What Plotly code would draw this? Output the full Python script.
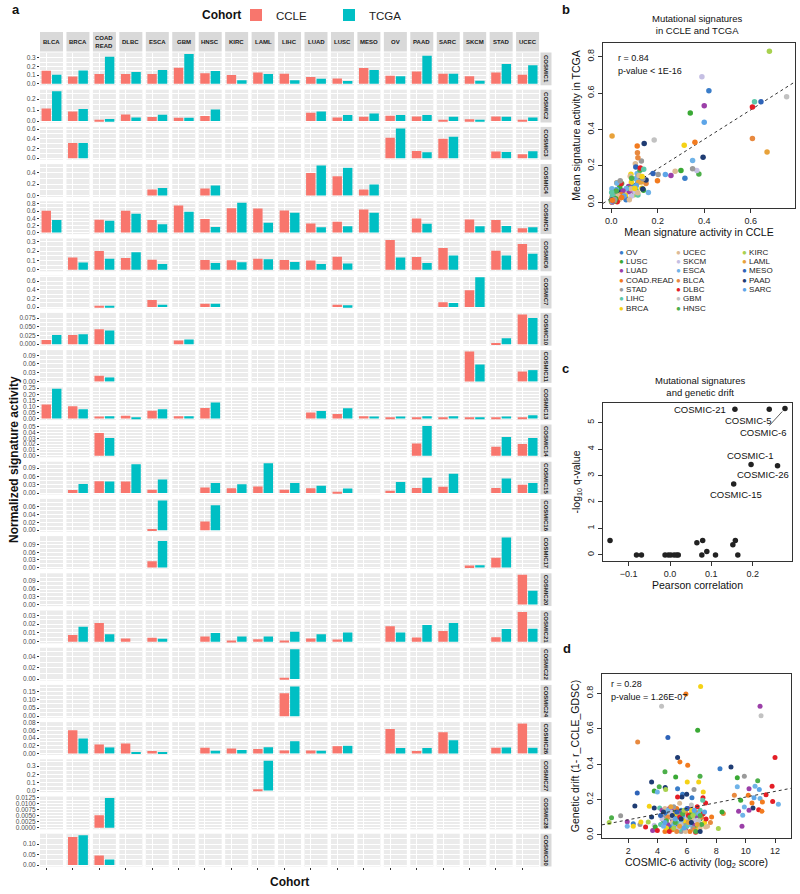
import numpy as np
import plotly.graph_objects as go

W, H = 800, 894
FONT = "Liberation Sans, Arial, sans-serif"

cohorts = ["BLCA", "BRCA", "COAD.READ", "DLBC", "ESCA", "GBM", "HNSC", "KIRC", "LAML", "LIHC",
           "LUAD", "LUSC", "MESO", "OV", "PAAD", "SARC", "SKCM", "STAD", "UCEC"]
strip_labels = [c.replace(".", "<br>") for c in cohorts]
signatures = ["COSMIC1", "COSMIC2", "COSMIC3", "COSMIC4", "COSMIC5", "COSMIC6", "COSMIC7",
              "COSMIC10", "COSMIC11", "COSMIC13", "COSMIC14", "COSMIC15", "COSMIC16", "COSMIC17",
              "COSMIC20", "COSMIC21", "COSMIC22", "COSMIC24", "COSMIC26", "COSMIC27", "COSMIC28",
              "COSMIC30"]

# normalized signature activity, one row per signature, cohorts in order above
ccle_vals = [
    [0.150, 0.085, 0.112, 0.112, 0.112, 0.185, 0.120, 0.100, 0.130, 0.115, 0.077, 0.062, 0.180, 0.092, 0.142, 0.115, 0.088, 0.130, 0.104],
    [0.113, 0.087, 0.012, 0.060, 0.036, 0.030, 0.045, 0, 0, 0, 0.075, 0.033, 0.039, 0.048, 0.042, 0.012, 0.015, 0.042, 0.012],
    [0, 0.314, 0, 0, 0, 0, 0, 0, 0, 0, 0, 0, 0, 0.420, 0.150, 0.400, 0, 0.136, 0.082],
    [0, 0, 0, 0, 0.106, 0, 0.124, 0, 0, 0, 0.400, 0.340, 0.106, 0, 0, 0, 0, 0, 0],
    [0.607, 0, 0.360, 0.607, 0.350, 0.754, 0.377, 0.680, 0.670, 0.616, 0.257, 0.300, 0.644, 0, 0.395, 0, 0.368, 0.350, 0.120],
    [0, 0.132, 0.199, 0.125, 0.108, 0, 0.105, 0.101, 0.118, 0.105, 0.098, 0.139, 0, 0.317, 0.136, 0.233, 0, 0.202, 0.275],
    [0, 0, 0.023, 0, 0.160, 0, 0.077, 0, 0, 0, 0, 0.054, 0, 0, 0, 0.108, 0.390, 0, 0],
    [0.0124, 0.0266, 0.0428, 0, 0, 0.0105, 0, 0, 0, 0, 0, 0, 0, 0, 0, 0, 0, 0.003, 0.0855],
    [0, 0, 0.0194, 0, 0, 0, 0, 0, 0, 0, 0, 0, 0, 0, 0, 0, 0.1027, 0, 0.034],
    [0.115, 0.102, 0.017, 0.023, 0.065, 0.020, 0.088, 0, 0, 0, 0.051, 0.037, 0.020, 0.006, 0.011, 0.006, 0.011, 0.011, 0.003],
    [0, 0, 0.0389, 0, 0, 0, 0, 0, 0, 0, 0, 0, 0, 0, 0.0211, 0, 0, 0.0154, 0.020],
    [0, 0.0108, 0.043, 0.042, 0.012, 0, 0.020, 0.017, 0.024, 0.012, 0.017, 0.005, 0, 0.008, 0.018, 0.023, 0, 0.018, 0.030],
    [0, 0, 0, 0, 0.0033, 0, 0.0217, 0, 0, 0, 0, 0, 0, 0, 0, 0, 0, 0, 0],
    [0, 0, 0, 0, 0.0248, 0, 0, 0, 0, 0, 0, 0, 0, 0, 0, 0, 0.0078, 0.039, 0],
    [0, 0, 0, 0, 0, 0, 0, 0, 0, 0, 0, 0, 0, 0, 0, 0, 0, 0, 0.1146],
    [0, 0.0076, 0.0213, 0.0038, 0.0046, 0, 0.0061, 0.0011, 0.003, 0.0015, 0.0038, 0.0027, 0, 0.0175, 0.0049, 0.0122, 0, 0.0053, 0.0338],
    [0, 0, 0, 0, 0, 0, 0, 0, 0, 0.0024, 0, 0, 0, 0, 0, 0, 0, 0, 0],
    [0, 0, 0, 0, 0, 0, 0, 0, 0, 0.140, 0, 0, 0, 0, 0, 0, 0, 0, 0],
    [0, 0.0609, 0.0235, 0.026, 0.006, 0, 0.0148, 0.013, 0.0113, 0.0078, 0.0078, 0.019, 0, 0.0643, 0.006, 0.0557, 0, 0.0148, 0.0783],
    [0, 0, 0, 0, 0, 0, 0, 0, 0.004, 0, 0, 0, 0, 0, 0, 0, 0, 0, 0],
    [0, 0, 0.0051, 0, 0, 0, 0, 0, 0, 0, 0, 0, 0, 0, 0, 0, 0, 0, 0],
    [0, 0.133, 0.0453, 0, 0, 0, 0, 0, 0, 0, 0, 0, 0, 0, 0, 0, 0, 0, 0],
]
tcga_vals = [
    [0.104, 0.154, 0.310, 0.135, 0.158, 0.342, 0.146, 0.042, 0.112, 0.040, 0.058, 0.031, 0.158, 0.088, 0.323, 0.115, 0.035, 0.227, 0.212],
    [0.272, 0.110, 0.018, 0.033, 0.057, 0.030, 0.104, 0, 0, 0, 0.087, 0.054, 0.069, 0.054, 0.054, 0.039, 0.012, 0.039, 0.033],
    [0, 0.314, 0, 0, 0, 0, 0, 0, 0, 0, 0, 0, 0, 0.613, 0.123, 0.440, 0, 0.130, 0.143],
    [0, 0, 0, 0, 0.130, 0, 0.176, 0, 0, 0, 0.530, 0.490, 0.194, 0, 0, 0, 0, 0, 0],
    [0.350, 0, 0.330, 0.524, 0.230, 0.580, 0.156, 0.830, 0.276, 0.552, 0.147, 0.175, 0.552, 0, 0.248, 0, 0.175, 0.184, 0.147],
    [0, 0.077, 0.118, 0.188, 0.063, 0, 0.073, 0.080, 0.111, 0.084, 0.063, 0.066, 0, 0.132, 0.073, 0.153, 0, 0.153, 0.171],
    [0, 0, 0.008, 0, 0.054, 0, 0.077, 0, 0, 0, 0, 0.038, 0, 0, 0, 0.092, 0.690, 0, 0],
    [0.0266, 0.0285, 0.039, 0, 0, 0.0133, 0, 0, 0, 0, 0, 0, 0, 0, 0, 0, 0, 0.017, 0.075],
    [0, 0, 0.0137, 0, 0, 0, 0, 0, 0, 0, 0, 0, 0, 0, 0, 0, 0.058, 0, 0.0388],
    [0.245, 0.076, 0.020, 0.011, 0.076, 0.020, 0.133, 0, 0, 0, 0.062, 0.085, 0.017, 0.017, 0.020, 0.020, 0.008, 0.017, 0.028],
    [0, 0, 0.0303, 0, 0, 0, 0, 0, 0, 0, 0, 0, 0, 0, 0.0509, 0, 0, 0.032, 0.0303],
    [0, 0.0324, 0.042, 0.104, 0.049, 0, 0.036, 0.032, 0.108, 0.036, 0.026, 0.016, 0, 0.040, 0.055, 0.070, 0, 0.053, 0.036],
    [0, 0, 0, 0, 0.075, 0, 0.063, 0, 0, 0, 0, 0, 0, 0, 0, 0, 0, 0, 0],
    [0, 0, 0, 0, 0.1057, 0, 0, 0, 0, 0, 0, 0, 0, 0, 0, 0, 0.009, 0.119, 0],
    [0, 0, 0, 0, 0, 0, 0, 0, 0, 0, 0, 0, 0, 0, 0, 0, 0, 0, 0.0528],
    [0, 0.0171, 0.0087, 0, 0.0034, 0, 0.0099, 0.0061, 0.0061, 0.0114, 0.0087, 0.0106, 0, 0.0106, 0.019, 0.0213, 0, 0.0144, 0.0148],
    [0, 0, 0, 0, 0, 0, 0, 0, 0, 0.0537, 0, 0, 0, 0, 0, 0, 0, 0, 0],
    [0, 0, 0, 0, 0, 0, 0, 0, 0, 0.182, 0, 0, 0, 0, 0, 0, 0, 0, 0],
    [0, 0.0391, 0.0157, 0.0035, 0.0035, 0, 0.007, 0.0087, 0.0165, 0.032, 0.007, 0.020, 0, 0.0139, 0.0139, 0.0348, 0, 0.0157, 0.0148],
    [0, 0, 0, 0, 0, 0, 0, 0, 0.364, 0, 0, 0, 0, 0, 0, 0, 0, 0, 0],
    [0, 0, 0.0122, 0, 0, 0, 0, 0, 0, 0, 0, 0, 0, 0, 0, 0, 0, 0, 0],
    [0, 0.142, 0.0266, 0, 0, 0, 0, 0, 0, 0, 0, 0, 0, 0, 0, 0, 0, 0, 0],
]
row_ticks = [
    ["0.0", "0.1", "0.2", "0.3"],
    ["0.0", "0.1", "0.2"],
    ["0.0", "0.2", "0.4", "0.6"],
    ["0.0", "0.2", "0.4"],
    ["0.0", "0.2", "0.4", "0.6", "0.8"],
    ["0.0", "0.1", "0.2", "0.3"],
    ["0.0", "0.2", "0.4", "0.6"],
    ["0.000", "0.025", "0.050", "0.075"],
    ["0.00", "0.03", "0.06", "0.09"],
    ["0.00", "0.05", "0.10", "0.15", "0.20", "0.25"],
    ["0.00", "0.01", "0.02", "0.03", "0.04", "0.05"],
    ["0.00", "0.03", "0.06", "0.09"],
    ["0.00", "0.02", "0.04", "0.06"],
    ["0.00", "0.03", "0.06", "0.09"],
    ["0.00", "0.03", "0.06", "0.09"],
    ["0.00", "0.01", "0.02", "0.03"],
    ["0.00", "0.02", "0.04"],
    ["0.00", "0.05", "0.10", "0.15"],
    ["0.00", "0.02", "0.04", "0.06", "0.08"],
    ["0.0", "0.1", "0.2", "0.3"],
    ["0.0000", "0.0025", "0.0050", "0.0075", "0.0100", "0.0125"],
    ["0.00", "0.05", "0.10"],
]

palette = {
    "OV": "#3A7DC9", "LUSC": "#3AA935", "LUAD": "#9B3FA8", "COAD.READ": "#F27B1F",
    "STAD": "#9A9A9A", "LIHC": "#5CC8A8", "BRCA": "#F5D216", "UCEC": "#DDBB94",
    "SKCM": "#C5BFE3", "ESCA": "#6FB3E8", "BLCA": "#E8893F", "DLBC": "#E41E26",
    "GBM": "#C2C2C2", "HNSC": "#4DAF4A", "KIRC": "#A8D14F", "LAML": "#E8A23A",
    "MESO": "#2E63B8", "PAAD": "#1F3C73", "SARC": "#5DA5E8",
}
legend_cols = [
    ["OV", "LUSC", "LUAD", "COAD.READ", "STAD", "LIHC", "BRCA"],
    ["UCEC", "SKCM", "ESCA", "BLCA", "DLBC", "GBM", "HNSC"],
    ["KIRC", "LAML", "MESO", "PAAD", "SARC"],
]

# panel c: correlation with genetic drift
c_corr = [-0.145, -0.081, -0.069, -0.012, -0.004, 0.002, 0.010, 0.016, 0.020, 0.065, 0.079, 0.089,
          0.077, 0.110, 0.152, 0.158, 0.164, 0.157, 0.240, 0.278, 0.196, 0.260, 0.154]
c_q = [0.54, 0, 0, 0, 0, 0, 0, 0, 0, 0.46, 0.54, 0.125,
       0, 0, 0.38, 0.54, 0, 5.50, 5.50, 5.53, 3.42, 3.37, 2.68]

# panel d: COSMIC-6 activity vs genetic drift per cell line
d_points = [
    (4.27, 0.728, "GBM"), (10.98, 0.728, "LUAD"), (11.05, 0.674, "GBM"), (6.73, 0.592, "LUSC"),
    (2.64, 0.526, "BLCA"), (4.70, 0.551, "MESO"), (5.93, 0.797, "COAD.READ"), (6.93, 0.839, "BRCA"),
    (5.36, 0.438, "PAAD"), (5.52, 0.413, "COAD.READ"), (6.05, 0.394, "COAD.READ"), (12.0, 0.438, "DLBC"),
    (8.25, 0.375, "OV"), (9.0, 0.385, "PAAD"), (4.5, 0.357, "HNSC"), (3.59, 0.30, "PAAD"),
    (2.61, 0.238, "MESO"), (5.23, 0.328, "LUSC"), (6.89, 0.332, "HNSC"), (6.02, 0.30, "BRCA"),
    (6.8, 0.30, "BRCA"), (4.52, 0.268, "PAAD"), (4.11, 0.272, "HNSC"), (3.77, 0.249, "LUSC"),
    (3.98, 0.243, "ESCA"), (4.55, 0.257, "KIRC"), (5.36, 0.262, "OV"), (5.70, 0.230, "OV"),
    (5.98, 0.23, "PAAD"), (6.48, 0.257, "STAD"), (7.11, 0.243, "BRCA"), (7.09, 0.211, "DLBC"),
    (6.34, 0.211, "OV"), (5.66, 0.215, "PAAD"), (5.36, 0.215, "DLBC"), (2.45, 0.164, "PAAD"),
    (3.43, 0.162, "BRCA"), (3.77, 0.153, "PAAD"), (4.14, 0.153, "LIHC"), (7.27, 0.181, "DLBC"),
    (7.07, 0.196, "LIHC"), (7.68, 0.102, "COAD.READ"), (8.14, 0.036, "KIRC"), (6.59, 0.015, "DLBC"),
    (7.27, 0.045, "UCEC"), (9.43, 0.323, "LUSC"), (9.43, 0.272, "ESCA"), (9.91, 0.332, "STAD"),
    (10.23, 0.262, "LUAD"), (10.64, 0.275, "ESCA"), (10.82, 0.306, "HNSC"), (10.93, 0.257, "SARC"),
    (10.18, 0.225, "COAD.READ"), (9.23, 0.225, "BLCA"), (9.66, 0.196, "LUSC"), (10.57, 0.211, "SARC"),
    (10.98, 0.206, "ESCA"), (11.39, 0.228, "DLBC"), (11.80, 0.275, "DLBC"), (11.84, 0.19, "DLBC"),
    (12.23, 0.174, "ESCA"), (10.43, 0.181, "COAD.READ"), (11.14, 0.187, "COAD.READ"), (9.91, 0.158, "ESCA"),
    (10.5, 0.153, "PAAD"), (10.89, 0.143, "DLBC"), (11.11, 0.134, "COAD.READ"), (10.23, 0.140, "LUAD"),
    (9.52, 0.134, "LUAD"), (9.80, 0.111, "ESCA"), (9.75, 0.049, "LUAD"), (8.48, 0.121, "BLCA"),
    (8.39, 0.13, "LUSC"), (0.70, 0.070, "KIRC"), (0.86, 0.098, "HNSC"), (1.48, 0.109, "STAD"),
    (1.93, 0.075, "LUAD"), (2.34, 0.064, "OV"), (1.93, 0.049, "ESCA"), (2.34, 0.049, "BRCA"),
    (2.80, 0.060, "STAD"), (2.86, 0.074, "BRCA"), (3.18, 0.045, "DLBC"), (3.36, 0.074, "KIRC"),
    (3.59, 0.102, "PAAD"), (3.66, 0.026, "LUAD"), (3.77, 0.055, "SKCM"), (3.84, 0.045, "LUSC"),
    (3.98, 0.026, "DLBC"),
    (4.6, 0.12, "OV"), (5.1, 0.09, "OV"), (5.4, 0.06, "OV"), (5.8, 0.11, "OV"), (6.2, 0.08, "OV"),
    (4.9, 0.05, "OV"), (5.6, 0.14, "OV"), (6.5, 0.10, "OV"),
    (4.4, 0.08, "LUSC"), (5.0, 0.13, "LUSC"), (5.3, 0.10, "LUSC"), (5.9, 0.07, "LUSC"), (6.3, 0.12, "LUSC"),
    (6.6, 0.05, "LUSC"), (4.8, 0.03, "LUSC"), (6.9, 0.09, "LUSC"),
    (4.3, 0.14, "LUAD"), (4.7, 0.06, "LUAD"), (5.2, 0.04, "LUAD"), (5.5, 0.12, "LUAD"), (5.9, 0.03, "LUAD"),
    (6.1, 0.15, "LUAD"), (6.4, 0.06, "LUAD"), (6.7, 0.11, "LUAD"), (5.0, 0.08, "LUAD"), (4.8, 0.15, "LUAD"),
    (5.05, 0.155, "LUAD"),
    (4.5, 0.02, "COAD.READ"), (5.0, 0.03, "COAD.READ"), (5.7, 0.05, "COAD.READ"), (6.2, 0.02, "COAD.READ"),
    (6.6, 0.13, "COAD.READ"), (5.3, 0.15, "COAD.READ"),
    (4.4, 0.10, "STAD"), (5.1, 0.16, "STAD"), (5.4, 0.11, "STAD"), (5.8, 0.06, "STAD"), (6.1, 0.09, "STAD"),
    (6.4, 0.04, "STAD"), (6.8, 0.07, "STAD"), (5.6, 0.02, "STAD"),
    (4.2, 0.06, "LIHC"), (4.9, 0.10, "LIHC"), (5.3, 0.07, "LIHC"), (5.7, 0.09, "LIHC"), (6.0, 0.05, "LIHC"),
    (6.5, 0.12, "LIHC"), (6.9, 0.14, "LIHC"), (5.5, 0.03, "LIHC"),
    (4.6, 0.04, "BRCA"), (5.2, 0.12, "BRCA"), (5.8, 0.08, "BRCA"), (6.3, 0.14, "BRCA"), (6.7, 0.03, "BRCA"),
    (7.2, 0.07, "BRCA"),
    (4.5, 0.15, "UCEC"), (5.0, 0.07, "UCEC"), (5.5, 0.18, "UCEC"), (6.0, 0.12, "UCEC"), (6.4, 0.09, "UCEC"),
    (6.9, 0.04, "UCEC"), (4.8, 0.11, "UCEC"), (5.9, 0.02, "UCEC"), (7.4, 0.05, "UCEC"),
    (4.3, 0.09, "SKCM"), (4.9, 0.13, "SKCM"), (5.4, 0.04, "SKCM"), (6.0, 0.10, "SKCM"), (6.6, 0.08, "SKCM"),
    (4.4, 0.05, "ESCA"), (5.1, 0.06, "ESCA"), (5.6, 0.08, "ESCA"), (6.2, 0.06, "ESCA"), (6.8, 0.12, "ESCA"),
    (4.7, 0.14, "ESCA"),
    (4.7, 0.10, "BLCA"), (5.3, 0.02, "BLCA"), (5.9, 0.13, "BLCA"), (6.5, 0.03, "BLCA"), (7.0, 0.10, "BLCA"),
    (7.6, 0.07, "BLCA"),
    (4.8, 0.02, "DLBC"), (5.5, 0.10, "DLBC"), (6.1, 0.11, "DLBC"), (6.7, 0.16, "DLBC"), (7.1, 0.12, "DLBC"),
    (7.3, 0.09, "DLBC"),
    (5.0, 0.10, "GBM"), (5.6, 0.06, "GBM"), (6.3, 0.17, "GBM"), (6.8, 0.08, "GBM"),
    (4.6, 0.08, "HNSC"), (5.2, 0.07, "HNSC"), (5.7, 0.12, "HNSC"), (6.2, 0.10, "HNSC"), (6.6, 0.02, "HNSC"),
    (7.0, 0.06, "HNSC"), (6.9, 0.11, "HNSC"),
    (5.1, 0.04, "KIRC"), (5.8, 0.14, "KIRC"), (6.4, 0.11, "KIRC"),
    (4.9, 0.16, "LAML"), (5.5, 0.05, "LAML"), (6.1, 0.07, "LAML"), (6.7, 0.06, "LAML"),
    (4.2, 0.11, "MESO"), (5.3, 0.13, "MESO"), (6.0, 0.15, "MESO"),
    (4.4, 0.13, "PAAD"), (5.0, 0.11, "PAAD"), (5.6, 0.09, "PAAD"), (6.3, 0.07, "PAAD"), (6.9, 0.02, "PAAD"),
    (4.5, 0.07, "SARC"), (5.2, 0.09, "SARC"), (5.8, 0.04, "SARC"), (6.5, 0.14, "SARC"), (7.2, 0.13, "SARC"),
]


def px(x):
    return x / W


def py(y):
    return 1 - y / H


def note(text, x, y, size, xanchor="center", yanchor="middle", color="#111", angle=0):
    # text placed in figure pixels (top-left origin)
    return dict(x=px(x), y=py(y), xref="paper", yref="paper", text=text, showarrow=False,
                xanchor=xanchor, yanchor=yanchor, textangle=angle,
                font=dict(size=size, color=color))


fig = go.Figure()
layout = {}
shapes = []
annotations = []

n_rows, n_cols = len(signatures), len(cohorts)
col_left0, col_pitch, col_w = 40, 26.45, 23
row_top0, row_pitch, row_h = 52.5, 37.2, 32.8
CCLE_COL, TCGA_COL = "#F8766D", "#00BFC4"

for j in range(n_cols):
    left = col_left0 + j * col_pitch
    layout["xaxis" if j == 0 else f"xaxis{j + 1}"] = dict(
        domain=[px(left), px(left + col_w)], anchor=f"y{n_rows}", type="category",
        categoryorder="array", categoryarray=["CCLE", "TCGA"], range=[-0.6, 1.6],
        showgrid=True, gridcolor="white", gridwidth=0.8, showticklabels=False,
        ticks="outside", ticklen=2, tickwidth=0.6, tickcolor="#333", zeroline=False,
        showline=False, fixedrange=True, automargin=False)
    shapes.append(dict(type="rect", xref="paper", yref="paper", x0=px(left), x1=px(left + col_w),
                       y0=py(51.5), y1=py(32), fillcolor="#D9D9D9", line_width=0, layer="below"))
    annotations.append(note(f"<b>{strip_labels[j]}</b>", left + col_w / 2, 41.8, 6,
                            color="#1A1A1A"))

for i in range(n_rows):
    top = row_top0 + i * row_pitch
    ymax = max(max(ccle_vals[i]), max(tcga_vals[i]))
    tv = [float(t) for t in row_ticks[i]]
    step = tv[1] - tv[0]
    minor = [v + step / 2 for v in tv if v + step / 2 < 1.05 * ymax]
    layout["yaxis" if i == 0 else f"yaxis{i + 1}"] = dict(
        domain=[py(top + row_h), py(top)], anchor="x", range=[-0.05 * ymax, 1.05 * ymax],
        tickmode="array", tickvals=tv, ticktext=row_ticks[i], showgrid=True, gridcolor="white",
        gridwidth=0.8, minor=dict(tickmode="array", tickvals=minor, showgrid=True,
                                  gridcolor="white", gridwidth=0.4, ticks=""),
        ticks="outside", ticklen=2, tickwidth=0.6, tickcolor="#333", zeroline=False,
        tickfont=dict(size=6.5, color="#4D4D4D"), showline=False, fixedrange=True,
        automargin=False)
    shapes.append(dict(type="rect", xref="paper", yref="paper", x0=px(540.5), x1=px(551.5),
                       y0=py(top + row_h), y1=py(top), fillcolor="#D9D9D9", line_width=0,
                       layer="below"))
    annotations.append(note(f"<b>{signatures[i]}</b>", 546, top + row_h / 2, 6,
                            color="#1A1A1A", angle=90))
    for j in range(n_cols):
        xa = "x" if j == 0 else f"x{j + 1}"
        ya = "y" if i == 0 else f"y{i + 1}"
        first = i == 0 and j == 0
        fig.add_trace(go.Bar(x=["CCLE"], y=[ccle_vals[i][j]], xaxis=xa, yaxis=ya,
                             marker=dict(color=CCLE_COL, line_width=0), name="CCLE",
                             legendgroup="CCLE", showlegend=first, hoverinfo="skip"))
        fig.add_trace(go.Bar(x=["TCGA"], y=[tcga_vals[i][j]], xaxis=xa, yaxis=ya,
                             marker=dict(color=TCGA_COL, line_width=0), name="TCGA",
                             legendgroup="TCGA", showlegend=first, hoverinfo="skip"))

# ---- panel b: mean activity CCLE vs TCGA (same data as the bars)
b_x, b_y, b_c = [], [], []
for i in range(n_rows):
    for j in range(n_cols):
        if ccle_vals[i][j] > 0 or tcga_vals[i][j] > 0:
            b_x.append(ccle_vals[i][j])
            b_y.append(tcga_vals[i][j])
            b_c.append(palette[cohorts[j]])
b_fit = np.polyfit(b_x, b_y, 1)
b_range = [-0.035, 0.79]

box_axis = dict(showline=True, mirror=True, linecolor="#333", linewidth=1, ticks="outside",
                ticklen=4, tickcolor="#333", showgrid=False, zeroline=False,
                tickfont=dict(size=9, color="#222"), title_font=dict(size=10.5, color="#111"),
                fixedrange=True, automargin=False)

layout["xaxis20"] = dict(box_axis, domain=[px(603), px(795)], anchor="y23", range=b_range,
                         tickvals=[0, 0.2, 0.4, 0.6], tickformat=".1f",
                         title=dict(text="Mean signature activity in CCLE", standoff=3))
layout["yaxis23"] = dict(box_axis, domain=[py(208), py(43)], anchor="x20", range=[-0.031, 0.875],
                         tickvals=[0, 0.2, 0.4, 0.6, 0.8], tickformat=".1f", tickangle=-90,
                         title=dict(text="Mean signature activity in TCGA", standoff=3))
fig.add_trace(go.Scatter(x=b_range, y=[b_fit[1] + b_fit[0] * v for v in b_range], mode="lines",
                         line=dict(color="#333", width=1, dash="dot"), xaxis="x20", yaxis="y23",
                         showlegend=False, hoverinfo="skip"))
fig.add_trace(go.Scatter(x=b_x, y=b_y, mode="markers", marker=dict(size=5.5, color=b_c),
                         xaxis="x20", yaxis="y23", showlegend=False))

# ---- panel c
layout["xaxis21"] = dict(box_axis, domain=[px(603), px(792)], anchor="y24", range=[-0.162, 0.295],
                         tickvals=[-0.1, 0, 0.1, 0.2], tickformat=".1f",
                         title=dict(text="Pearson correlation", standoff=3))
layout["yaxis24"] = dict(box_axis, domain=[py(561), py(403)], anchor="x21", range=[-0.23, 5.74],
                         tickvals=[0, 1, 2, 3, 4, 5], tickangle=-90,
                         title=dict(text="-log<sub>10</sub> q-value", standoff=3))
fig.add_trace(go.Scatter(x=c_corr, y=c_q, mode="markers", marker=dict(size=5.5, color="#222"),
                         xaxis="x21", yaxis="y24", showlegend=False))
c_label_font = dict(size=9.5, color="#111")
for txt, x, y, xanchor in [("COSMIC-21", 0.140, 5.50, "right"), ("COSMIC-5", 0.189, 5.07, "center"),
                           ("COSMIC-1", 0.194, 3.74, "center"), ("COSMIC-26", 0.225, 3.02, "center"),
                           ("COSMIC-15", 0.160, 2.30, "center")]:
    annotations.append(dict(x=x, y=y, xref="x21", yref="y24", text=txt, showarrow=False,
                            xanchor=xanchor, yanchor="middle", font=c_label_font))
annotations.append(dict(x=0.278, y=5.53, xref="x21", yref="y24", text="COSMIC-6", showarrow=True,
                        arrowhead=0, arrowwidth=0.8, arrowcolor="#333", ax=-22, ay=24,
                        standoff=4, font=c_label_font))

# ---- panel d
d_x = [p[0] for p in d_points]
d_y = [p[1] for p in d_points]
d_c = [palette[p[2]] for p in d_points]
d_fit = np.polyfit(d_x, d_y, 1)
d_range = [0.21, 13.09]
layout["xaxis22"] = dict(box_axis, domain=[px(602), px(791)], anchor="y25", range=d_range,
                         tickvals=[2, 4, 6, 8, 10, 12],
                         title=dict(text="COSMIC-6 activity (log<sub>2</sub> score)", standoff=3))
layout["yaxis25"] = dict(box_axis, domain=[py(838), py(674)], anchor="x22", range=[-0.017, 0.91],
                         tickvals=[0, 0.2, 0.4, 0.6, 0.8], tickformat=".1f", tickangle=-90,
                         title=dict(text="Genetic drift (1- r_CCLE_GDSC)", standoff=3))
fig.add_trace(go.Scatter(x=d_x, y=d_y, mode="markers", marker=dict(size=5, color=d_c),
                         xaxis="x22", yaxis="y25", showlegend=False))
fig.add_trace(go.Scatter(x=d_range, y=[d_fit[1] + d_fit[0] * v for v in d_range], mode="lines",
                         line=dict(color="#333", width=1, dash="dot"), xaxis="x22", yaxis="y25",
                         showlegend=False, hoverinfo="skip"))

# white backgrounds for the base-style panels
for xa, ya in [("x20", "y23"), ("x21", "y24"), ("x22", "y25")]:
    shapes.append(dict(type="rect", xref=f"{xa} domain", yref=f"{ya} domain", x0=0, x1=1, y0=0,
                       y1=1, fillcolor="white", line_width=0, layer="below"))

# panel b legend
for ci, names in enumerate(legend_cols):
    x0 = [617, 674, 740][ci]
    for ri, name in enumerate(names):
        annotations.append(note(f'<span style="color:{palette[name]}">●</span> {name}',
                                x0, 252 + ri * 9.4, 8, xanchor="left", color="#222"))

# titles, letters and free text
annotations += [
    note("<b>a</b>", 10, 10, 13, xanchor="left"),
    note("<b>b</b>", 560, 10, 13, xanchor="left"),
    note("<b>c</b>", 560, 368, 13, xanchor="left"),
    note("<b>d</b>", 561, 648, 13, xanchor="left"),
    note("Mutational signatures<br>in CCLE and TCGA", 697, 25, 9.5),
    note("Mutational signatures<br>and genetic drift", 700, 386, 9.5),
    note("r = 0.84", 616, 58, 9, xanchor="left"),
    note("p-value < 1E-16", 616, 71, 9, xanchor="left"),
    note("r = 0.28", 609, 684, 9, xanchor="left"),
    note("p-value = 1.26E-07", 609, 697, 9, xanchor="left"),
    note("<b>Cohort</b>", 289, 882, 12),
    note("<b>Normalized signature activity</b>", 14, 460, 12, angle=-90),
    note("<b>Cohort</b>", 221, 15, 12),
]

fig.update_layout(
    width=W, height=H, margin=dict(l=0, r=0, t=0, b=0, autoexpand=False),
    paper_bgcolor="white", plot_bgcolor="#EBEBEB",
    barmode="overlay", bargap=0.1,
    font=dict(family=FONT, color="#222"),
    shapes=shapes, annotations=annotations,
    legend=dict(orientation="h", x=px(236), y=py(15), xanchor="left", yanchor="middle",
                font=dict(size=11.5), bgcolor="rgba(0,0,0,0)", entrywidth=48),
    **layout,
)
fig.write_html("out.html", config={"displayModeBar": False},
               post_script="document.body.style.margin = '0';")
